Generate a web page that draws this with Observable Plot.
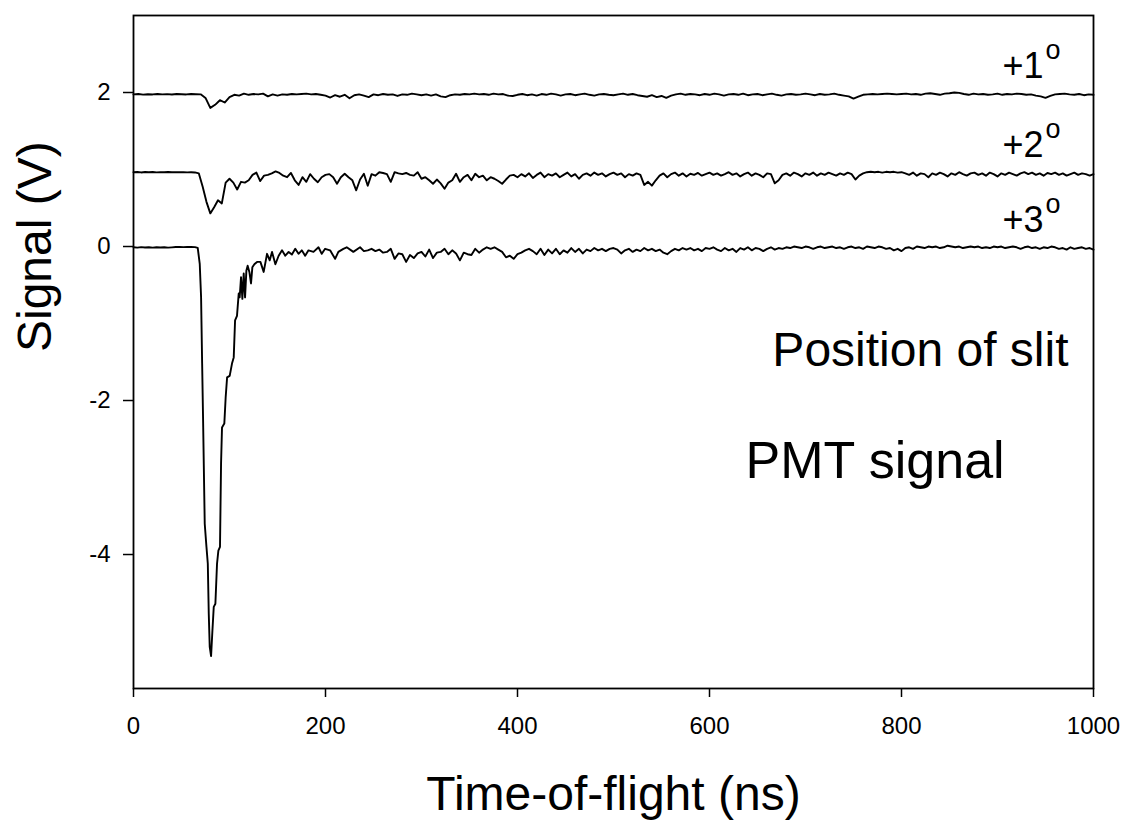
<!DOCTYPE html>
<html><head><meta charset="utf-8">
<script src="https://cdn.jsdelivr.net/npm/d3@7"></script>
<script src="https://cdn.jsdelivr.net/npm/@observablehq/plot@0.6"></script>
<style>body{margin:0;background:#fff}</style>
</head><body><div id="chart"></div>
<script>
// ---- Data ----
const xTicks = [0, 200, 400, 600, 800, 1000];
const yTicks = [-4, -2, 0, 2];
const xTitle = "Time-of-flight (ns)";
const yTitle = "Signal (V)";
const slitLabels = ["+1", "+2", "+3"];
const noteSlit = "Position of slit";
const notePMT = "PMT signal";

// +1 deg trace, sampled every 5 ns from 0 to 1000 ns
const step1 = 5;
const signal1 = [
  1.975, 1.980, 1.972, 1.978, 1.975, 1.981, 1.976, 1.979, 1.974, 1.980,
  1.977, 1.975, 1.980, 1.978, 1.976, 1.93, 1.80, 1.84, 1.90, 1.87,
  1.94, 1.97, 1.96, 1.985, 1.97, 1.98, 1.975, 1.985, 1.95, 1.975,
  1.96, 1.975, 1.97, 1.98, 1.975, 1.98, 1.985, 1.975, 1.98, 1.97,
  1.96, 1.935, 1.965, 1.945, 1.97, 1.925, 1.965, 1.975, 1.96, 1.94,
  1.975, 1.965, 1.98, 1.97, 1.975, 1.955, 1.975, 1.97, 1.985, 1.975,
  1.965, 1.975, 1.96, 1.975, 1.95, 1.94, 1.965, 1.975, 1.97, 1.98,
  1.975, 1.985, 1.975, 1.98, 1.97, 1.985, 1.975, 1.98, 1.96, 1.955,
  1.97, 1.98, 1.965, 1.975, 1.96, 1.98, 1.97, 1.985, 1.975, 1.96,
  1.975, 1.98, 1.965, 1.975, 1.985, 1.97, 1.96, 1.975, 1.98, 1.97,
  1.965, 1.975, 1.985, 1.97, 1.98, 1.965, 1.955, 1.945, 1.965, 1.94,
  1.955, 1.93, 1.96, 1.975, 1.985, 1.97, 1.98, 1.975, 1.965, 1.98,
  1.97, 1.985, 1.975, 1.96, 1.975, 1.98, 1.97, 1.985, 1.965, 1.975,
  1.98, 1.965, 1.975, 1.985, 1.97, 1.96, 1.975, 1.98, 1.97, 1.975,
  1.985, 1.975, 1.965, 1.98, 1.97, 1.975, 1.985, 1.97, 1.96, 1.95,
  1.92, 1.945, 1.97, 1.975, 1.98, 1.975, 1.98, 1.985, 1.98, 1.975,
  1.98, 1.985, 1.975, 1.98, 1.97, 1.985, 1.99, 1.98, 1.97, 1.985,
  1.99, 2.0, 1.995, 1.98, 1.97, 1.985, 1.975, 1.98, 1.97, 1.975,
  1.985, 1.97, 1.98, 1.975, 1.985, 1.98, 1.97, 1.975, 1.96, 1.95,
  1.93, 1.955, 1.975, 1.98, 1.985, 1.975, 1.97, 1.98, 1.965, 1.975,
  1.97
];

// +2 deg trace, sampled every 4 ns from 0 to 1000 ns
const step2 = 4;
const signal2 = [
  0.965, 0.968, 0.962, 0.967, 0.964, 0.968, 0.963, 0.966, 0.965, 0.967,
  0.964, 0.966, 0.965, 0.966, 0.963, 0.965, 0.962, 0.95, 0.78, 0.58,
  0.43, 0.51, 0.60, 0.56, 0.83, 0.88, 0.83, 0.74, 0.84, 0.83,
  0.86, 0.93, 0.96, 0.85, 0.92, 0.93, 0.95, 0.975, 0.955, 0.92,
  0.90, 0.955, 0.86, 0.80, 0.90, 0.84, 0.94, 0.88, 0.835, 0.90,
  0.93, 0.94, 0.90, 0.815, 0.90, 0.945, 0.90, 0.86, 0.73, 0.87,
  0.945, 0.79, 0.94, 0.92, 0.965, 0.955, 0.94, 0.84, 0.965, 0.95,
  0.94, 0.955, 0.93, 0.92, 0.965, 0.88, 0.90, 0.86, 0.815, 0.87,
  0.82, 0.75, 0.83, 0.86, 0.945, 0.84, 0.90, 0.93, 0.86, 0.945,
  0.90, 0.92, 0.86, 0.90, 0.88, 0.85, 0.815, 0.87, 0.92, 0.93,
  0.90, 0.94, 0.91, 0.95, 0.89, 0.93, 0.96, 0.90, 0.94, 0.92,
  0.95, 0.90, 0.93, 0.96, 0.91, 0.94, 0.88, 0.93, 0.95, 0.92,
  0.96, 0.93, 0.95, 0.91, 0.94, 0.96, 0.93, 0.95, 0.90, 0.94,
  0.92, 0.95, 0.93, 0.80, 0.84, 0.79, 0.86, 0.92, 0.95, 0.90,
  0.94, 0.96, 0.92, 0.95, 0.91, 0.945, 0.93, 0.955, 0.92, 0.94,
  0.96, 0.93, 0.95, 0.92, 0.94, 0.965, 0.93, 0.95, 0.91, 0.94,
  0.96, 0.92, 0.95, 0.93, 0.90, 0.95, 0.94, 0.82, 0.86, 0.93,
  0.95, 0.92, 0.96, 0.94, 0.91, 0.95, 0.93, 0.96, 0.92, 0.95,
  0.93, 0.96, 0.94, 0.92, 0.95, 0.93, 0.96, 0.94, 0.87, 0.92,
  0.95, 0.965, 0.97, 0.965, 0.97, 0.96, 0.97, 0.965, 0.97, 0.96,
  0.965, 0.95, 0.93, 0.96, 0.92, 0.95, 0.94, 0.90, 0.95, 0.93,
  0.96, 0.94, 0.91, 0.95, 0.93, 0.965, 0.94, 0.92, 0.95, 0.96,
  0.93, 0.95, 0.92, 0.96, 0.94, 0.91, 0.95, 0.93, 0.96, 0.94,
  0.92, 0.95, 0.965, 0.94, 0.96, 0.93, 0.95, 0.92, 0.955, 0.94,
  0.96, 0.93, 0.95, 0.92, 0.94, 0.96, 0.93, 0.95, 0.94, 0.92,
  0.94
];

// +3 deg trace: the pulse region (irregular sample times), 0 - 240 ns
const pulseTime3 = [
  0, 4, 8, 12, 16, 20, 24, 28, 32, 36, 40, 44, 48, 52, 56, 60, 64,
  66.9, 69, 70.4, 71.5, 72.5, 73.2, 74.2, 76, 77.4, 78.4, 79.4, 80.8,
  82.2, 83.6, 85.3, 87, 88.4, 90.1, 91.2, 92.2, 94.6, 96, 97.5, 100.2,
  102.6, 104.4, 105.8, 107.8, 109.6, 110.6, 112, 113.4, 114.8, 116.2,
  117.6, 118.9, 120.7, 122.4, 123.8, 125.9, 128.7, 132.2, 135.6, 139.1,
  141.9, 144.3, 147.8, 151.2, 154.7, 158.1, 161.6, 165, 168.5, 171.9,
  175.3, 178.8, 182.3, 187.5, 192.7, 196.1, 199.6, 204.8, 210, 213.4,
  218.6, 222.1, 229, 236, 240
];
const pulseSignal3 = [
  -0.01, -0.015, -0.008, -0.012, -0.01, -0.014, -0.009, -0.012, -0.01, -0.015, -0.011, -0.007, -0.005, -0.008, -0.005, -0.006, -0.008,
  -0.017, -0.225, -0.66, -1.52, -2.26, -2.82, -3.60, -3.90, -4.12, -4.77, -5.20, -5.32,
  -4.99, -4.68, -4.64, -4.12, -3.95, -3.90, -2.82, -2.35, -2.30, -1.96, -1.70, -1.68,
  -1.52, -1.44, -0.96, -0.90, -0.61, -0.66, -0.40, -0.68, -0.35, -0.66,
  -0.31, -0.25, -0.33, -0.48, -0.27, -0.23, -0.20, -0.20, -0.33, -0.095,
  -0.18, -0.07, -0.23, -0.12, -0.05, -0.12, -0.07, -0.105, -0.03, -0.095,
  -0.05, -0.12, -0.05, -0.07, -0.01, -0.095, -0.03, -0.05, -0.16, -0.07,
  -0.03, -0.01, -0.07, -0.01, -0.06
];
// +3 deg trace: tail, sampled every 4 ns from 244 to 1000 ns
const tailStart3 = 244, step3 = 4;
const tailSignal3 = [
  -0.05, -0.03, -0.06, -0.04, -0.08, -0.07, -0.03, -0.16, -0.09, -0.10,
  -0.20, -0.11, -0.15, -0.09, -0.07, -0.13, -0.04, -0.15, -0.08, -0.07,
  -0.03, -0.10, -0.05, -0.09, -0.18, -0.08, -0.10, -0.11, -0.03, -0.08,
  -0.04, -0.01, -0.03, -0.01, -0.04, -0.07, -0.14, -0.12, -0.16, -0.10,
  -0.08, -0.05, -0.03, -0.06, -0.10, -0.03, -0.11, -0.04, -0.09, -0.03,
  -0.10, -0.05, -0.08, -0.02, -0.07, -0.03, -0.09, -0.04, -0.06, -0.02,
  -0.05, -0.03, -0.06, -0.03, -0.02, -0.04, -0.09, -0.05, -0.03, -0.07,
  -0.04, -0.06, -0.02, -0.05, -0.03, -0.06, -0.04, -0.08, -0.10, -0.06,
  -0.03, -0.05, -0.02, -0.04, -0.02, -0.05, -0.03, -0.06, -0.02, -0.03,
  -0.01, -0.04, -0.06, -0.02, -0.05, -0.03, -0.07, -0.02, -0.04, -0.01,
  -0.05, -0.02, -0.03, -0.06, -0.03, -0.01, -0.04, -0.02, -0.03, -0.01,
  -0.02, 0.00, -0.01, -0.02, 0.00, -0.01, -0.03, -0.01, 0.00, -0.02,
  -0.01, 0.00, -0.02, -0.01, -0.03, -0.01, 0.00, -0.02, -0.01, -0.03,
  0.00, -0.01, -0.02, 0.00, -0.01, -0.03, -0.02, -0.05, -0.03, -0.06,
  -0.02, -0.01, -0.03, 0.00, -0.01, -0.02, 0.00, -0.01, 0.00, -0.02,
  -0.01, 0.01, 0.00, -0.01, 0.00, -0.02, -0.01, 0.00, -0.01, 0.00,
  -0.02, -0.01, -0.02, 0.00, -0.01, 0.00, -0.02, -0.01, 0.00, -0.01,
  -0.03, -0.01, 0.00, -0.02, -0.01, -0.03, -0.01, -0.02, 0.00, -0.01,
  -0.03, -0.02, -0.04, -0.01, -0.03, -0.02, -0.01, -0.03, -0.02, -0.04
];

// ---- Build tables ----
const trace1 = signal1.map((v, i) => ({t: i * step1, v}));
const trace2 = signal2.map((v, i) => ({t: i * step2, v}));
const trace3 = pulseTime3.map((t, i) => ({t, v: pulseSignal3[i]}))
  .concat(tailSignal3.map((v, i) => ({t: tailStart3 + i * step3, v})));

const lineStyle = {x: "t", y: "v", stroke: "black", strokeWidth: 1.9, strokeLinejoin: "round"};

// annotation placement (pixel offsets from the top-right corner of the frame)
const slitDy = [62, 141, 216];

const chart = Plot.plot({
  width: 1128,
  height: 824,
  marginLeft: 133,
  marginRight: 35,
  marginTop: 15,
  marginBottom: 136,
  style: {fontFamily: "'Liberation Sans', Arial, sans-serif", background: "white", color: "black"},
  x: {domain: [0, 1000]},
  y: {domain: [-5.74, 3]},
  marks: [
    Plot.line(trace1, lineStyle),
    Plot.line(trace2, lineStyle),
    Plot.line(trace3, lineStyle),
    Plot.frame({stroke: "black", strokeWidth: 1.8}),
    Plot.axisX({ticks: xTicks, tickSize: 9, tickPadding: 19, fontSize: 24, strokeWidth: 1.5, label: null, tickFormat: d => String(d)}),
    Plot.axisY({ticks: yTicks, tickSize: 10, tickPadding: 13, fontSize: 24, strokeWidth: 1.5, label: null, tickFormat: d => String(d)}),
    Plot.text([xTitle], {frameAnchor: "bottom", text: d => d, fontSize: 48, lineAnchor: "bottom", dy: 121}),
    Plot.text([yTitle], {frameAnchor: "left", text: d => d, fontSize: 48, rotate: -90, lineAnchor: "middle", dx: -98}),
    ...slitLabels.map((s, i) => Plot.text([s], {frameAnchor: "top-right", text: d => d, fontSize: 36, textAnchor: "end", lineAnchor: "bottom", dx: -50, dy: slitDy[i]})),
    ...slitLabels.map((s, i) => Plot.text(["o"], {frameAnchor: "top-right", text: d => d, fontSize: 27, textAnchor: "start", lineAnchor: "bottom", dx: -48, dy: slitDy[i] - 19})),
    Plot.text([noteSlit], {frameAnchor: "top-right", text: d => d, fontSize: 48, textAnchor: "end", lineAnchor: "bottom", dx: -25, dy: 350}),
    Plot.text([notePMT], {frameAnchor: "top-left", text: d => d, fontSize: 52, textAnchor: "start", lineAnchor: "bottom", dx: 612, dy: 462})
  ]
});
document.getElementById("chart").appendChild(chart);
</script></body></html>
